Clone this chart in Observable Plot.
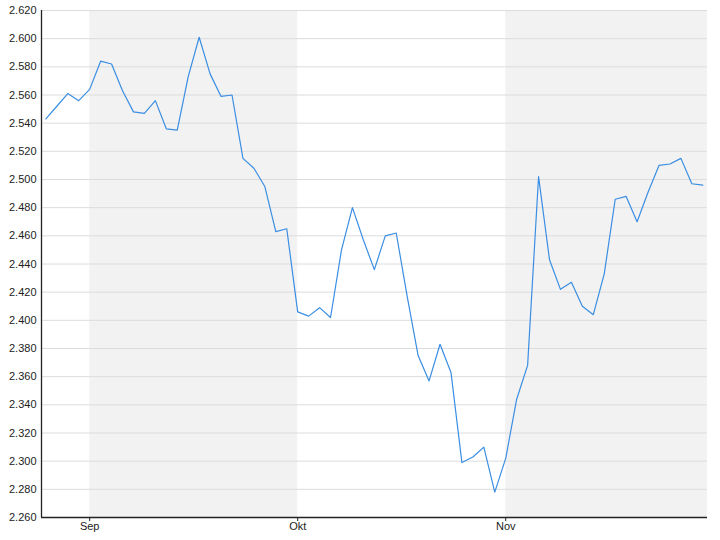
<!DOCTYPE html>
<html>
<head>
<meta charset="utf-8">
<script src="https://cdn.jsdelivr.net/npm/d3@7"></script>
<script src="https://cdn.jsdelivr.net/npm/@observablehq/plot@0.6"></script>
<style>
  html, body { margin: 0; padding: 0; background: #fff; }
</style>
</head>
<body>
<div id="chart"></div>
<script>
// Series values (one per observation, in order)
const values = [
  2.543, 2.552, 2.561, 2.556, 2.564, 2.584, 2.582, 2.563, 2.548, 2.547,
  2.556, 2.536, 2.535, 2.573, 2.601, 2.575, 2.559, 2.560, 2.515, 2.508,
  2.495, 2.463, 2.465, 2.406, 2.403, 2.409, 2.402, 2.450, 2.480, 2.457,
  2.436, 2.460, 2.462, 2.417, 2.375, 2.357, 2.383, 2.363, 2.299, 2.303,
  2.310, 2.278, 2.302, 2.344, 2.368, 2.502, 2.443, 2.422, 2.427, 2.410,
  2.404, 2.433, 2.486, 2.488, 2.470, 2.491, 2.510, 2.511, 2.515, 2.497,
  2.496
];
// Month tick labels and the observation index where each month starts
const monthLabels = ["Sep", "Okt", "Nov"];
const monthStartIndex = [4, 23, 42];
const shadedMonths = ["Sep", "Nov"];

const data = values.map((v, i) => ({i, v}));
const xDomain = [-0.4, values.length - 1 + 0.43];
const bands = shadedMonths.map(m => {
  const k = monthLabels.indexOf(m);
  return {x1: monthStartIndex[k], x2: k + 1 < monthStartIndex.length ? monthStartIndex[k + 1] : xDomain[1]};
});
const yTicks = d3.ticks(2.26, 2.62, 18);

const chart = Plot.plot({
  width: 720,
  height: 540,
  marginTop: 10,
  marginLeft: 41,
  marginRight: 13,
  marginBottom: 23,
  style: {fontFamily: "'Liberation Sans', Arial, sans-serif", fontSize: "11px", color: "#222", background: "#fff"},
  x: {domain: xDomain, label: null},
  y: {domain: [2.26, 2.62], label: null},
  marks: [
    Plot.rect(bands, {x1: "x1", x2: "x2", fill: "#f2f2f2"}),
    Plot.gridY(yTicks, {stroke: "#dcdcdc", strokeOpacity: 1}),
    Plot.line(data, {x: "i", y: "v", stroke: "#3a8ee3", strokeWidth: 1.2}),
    Plot.axisY(yTicks, {tickSize: 0, tickPadding: 5, tickFormat: d3.format(".3f"), label: null, fill: "#222"}),
    Plot.axisX(monthStartIndex, {tickSize: 4, tickPadding: 1, tickFormat: d => monthLabels[monthStartIndex.indexOf(d)], label: null, fill: "#222", stroke: "#222"}),
    Plot.ruleX([xDomain[0]], {stroke: "#222", strokeWidth: 1.3}),
    Plot.ruleY([2.26], {stroke: "#222", strokeWidth: 1.3})
  ]
});
document.getElementById("chart").appendChild(chart);
</script>
</body>
</html>
